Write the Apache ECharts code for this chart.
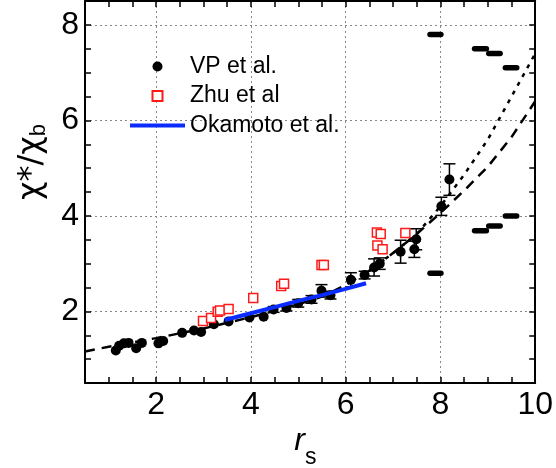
<!DOCTYPE html>
<html>
<head>
<meta charset="utf-8">
<script src="https://cdn.jsdelivr.net/npm/echarts@6/dist/echarts.min.js"></script>
<style>html,body{margin:0;padding:0;background:#fff;}#c{width:556px;height:468px;}</style>
</head>
<body>
<div id="c"></div>
<script>
// ---- data ----
const vpX   = [1.15,1.22,1.32,1.42,1.58,1.70,2.05,2.15,2.55,2.80,2.95,3.22,3.53,3.97,4.27,4.48,4.75,5.00,5.28,5.49,5.68,6.11,6.40,6.60,6.72,7.16,7.45,7.49,8.02,8.19];
const vpY   = [1.18,1.28,1.33,1.34,1.23,1.34,1.33,1.38,1.55,1.60,1.57,1.73,1.79,1.87,1.89,2.04,2.07,2.17,2.25,2.43,2.34,2.66,2.76,2.92,3.00,3.25,3.30,3.51,4.20,4.76];
const vpErr = [0,0,0,0,0,0,0,0,0,0,0,0,0,0,0,0.06,0.06,0.08,0.08,0.13,0.08,0.15,0.08,0.18,0.12,0.24,0.17,0.22,0.19,0.33];

const zhuX = [2.99,3.16,3.30,3.35,3.53,4.05,4.64,4.70,5.49,5.54,6.66,6.74,6.67,6.78,7.26];
const zhuY = [1.80,1.86,1.99,2.02,2.05,2.28,2.53,2.58,2.97,2.97,3.65,3.62,3.38,3.30,3.64];

const okaX = [3.45,4.0,4.5,5.0,5.5,6.0,6.43];
const okaY = [1.82,1.96,2.09,2.22,2.34,2.47,2.59];

const dashX = [0.5,1,1.5,2,2.5,3,3.5,4,4.5,5,5.5,6,6.5,7,7.5,8,8.5,9,9.5,10];
const dashY = [1.16,1.26,1.35,1.44,1.54,1.64,1.76,1.88,2.01,2.15,2.31,2.55,2.85,3.22,3.62,4.06,4.53,5.03,5.65,6.40];

const dotX = [6.5,7,7.5,8,8.5,9,9.5,10];
const dotY = [2.85,3.22,3.62,4.20,4.86,5.60,6.50,7.40];

// horizontal bars: start x, end x, y
const barX1 = [7.78,8.72,9.02,9.37,7.78,8.72,9.02,9.37];
const barX2 = [8.01,8.97,9.26,9.61,8.01,8.97,9.26,9.61];
const barY  = [7.80,7.50,7.40,7.10,2.80,3.69,3.79,4.00];

const xGrid = [2,4,6,8];
const yGrid = [2,4,6,8];
const xRange = [0.5, 10];
const yRange = [0.5, 8.5];

// ---- chart ----
const FONT = "'Liberation Sans', Arial, sans-serif";
const chart = echarts.init(document.getElementById('c'), null, {renderer:'canvas'});

function axisCommon(range, primary, labelFmt) {
  return {
    type: 'value', min: range[0], max: range[1], interval: 0.5,
    axisLine: {show: true, onZero: false, lineStyle: {color: '#000', width: 2}},
    axisTick: {show: true, inside: true, length: 6, lineStyle: {color: '#000', width: 1.5}},
    splitLine: {show: false},
    axisLabel: primary ? {show: true, color: '#000', fontSize: 32, fontFamily: FONT, margin: 6, formatter: labelFmt} : {show: false}
  };
}
const evenFmt = v => (Math.abs(v % 2) < 1e-9 ? String(v) : '');

const gridLines = xGrid.map(v => ({xAxis: v})).concat(yGrid.map(v => ({yAxis: v})));

chart.setOption({
  animation: false,
  backgroundColor: '#fff',
  grid: {left: 85, right: 17, top: 1, bottom: 85, containLabel: false},
  xAxis: [
    Object.assign(axisCommon(xRange, true, evenFmt), {position: 'bottom'}),
    Object.assign(axisCommon(xRange, false), {position: 'top'})
  ],
  yAxis: [
    Object.assign(axisCommon(yRange, true, evenFmt), {position: 'left'}),
    Object.assign(axisCommon(yRange, false), {position: 'right'})
  ],
  legend: {
    orient: 'vertical', left: 130, top: 55, padding: 0, itemWidth: 55, itemHeight: 10, itemGap: 6.5,
    textStyle: {color: '#000', fontSize: 23, fontFamily: FONT, lineHeight: 23},
    data: [
      {name: 'VP et al.', icon: 'circle'},
      {name: 'Zhu et al', icon: 'path://M0,0L10,0L10,10L0,10Z'},
      {name: 'Okamoto et al.', icon: 'path://M0,0L55,0L55,4L0,4Z'}
    ]
  },
  graphic: [
    {type: 'text', x: 32, y: 162, rotation: Math.PI / 2,
     style: {text: '{m|χ*/χ}{s|b}', align: 'center', verticalAlign: 'middle',
       rich: {m: {fontSize: 32, fontFamily: "'DejaVu Sans', sans-serif", fill: '#000'},
              s: {fontSize: 22, fontFamily: FONT, fill: '#000', padding: [14, 0, 0, 0]}}}},
    {type: 'text', x: 305, y: 441, style: {text: 'r', align: 'right', verticalAlign: 'middle', fontSize: 32, fontStyle: 'italic', fontFamily: FONT, fill: '#000'}},
    {type: 'text', x: 305, y: 458, style: {text: 's', align: 'left', verticalAlign: 'middle', fontSize: 23, fontFamily: FONT, fill: '#000'}}
  ],
  series: [
    {
      type: 'line', name: 'dashed', data: dashX.map((x, i) => [x, dashY[i]]),
      showSymbol: false, symbol: 'none', silent: true, z: 1,
      lineStyle: {color: '#000', width: 2.5, type: [10, 7]},
      markLine: {silent: true, symbol: ['none', 'none'], label: {show: false},
        lineStyle: {color: '#888', width: 1, type: [2, 3]}, data: gridLines, z: 0}
    },
    {
      type: 'line', name: 'dotted', data: dotX.map((x, i) => [x, dotY[i]]),
      showSymbol: false, symbol: 'none', silent: true, z: 1,
      lineStyle: {color: '#000', width: 2.5, type: [4, 6]}
    },
    {
      type: 'custom', name: 'bars', silent: true, z: 2,
      data: barX1.map((x, i) => [x, barX2[i], barY[i]]),
      encode: {x: [0, 1], y: 2},
      renderItem: (params, api) => {
        const p1 = api.coord([api.value(0), api.value(2)]);
        const p2 = api.coord([api.value(1), api.value(2)]);
        return {type: 'line', shape: {x1: p1[0], y1: p1[1], x2: p2[0], y2: p2[1]},
          style: {stroke: '#000', lineWidth: 5.5, lineCap: 'round'}};
      }
    },
    {
      type: 'custom', name: 'vpErr', silent: true, z: 3,
      data: vpX.map((x, i) => [x, vpY[i], vpErr[i]]),
      encode: {x: 0, y: 1},
      renderItem: (params, api) => {
        const x = api.value(0), y = api.value(1), e = api.value(2);
        if (!e) return null;
        const t = api.coord([x, y + e]), b = api.coord([x, y - e]);
        const hw = 6, st = {stroke: '#000', lineWidth: 1.5};
        return {type: 'group', children: [
          {type: 'line', shape: {x1: t[0], y1: t[1], x2: b[0], y2: b[1]}, style: st},
          {type: 'line', shape: {x1: t[0] - hw, y1: t[1], x2: t[0] + hw, y2: t[1]}, style: st},
          {type: 'line', shape: {x1: b[0] - hw, y1: b[1], x2: b[0] + hw, y2: b[1]}, style: st}
        ]};
      }
    },
    {
      type: 'scatter', name: 'VP et al.', z: 4,
      data: vpX.map((x, i) => [x, vpY[i]]),
      symbol: 'circle', symbolSize: 10, itemStyle: {color: '#000', opacity: 1}
    },
    {
      type: 'scatter', name: 'Zhu et al', z: 5,
      data: zhuX.map((x, i) => [x, zhuY[i]]),
      symbol: 'rect', symbolSize: 9,
      itemStyle: {color: '#fff', borderColor: '#ff1a1a', borderWidth: 1.5, opacity: 1}
    },
    {
      type: 'line', name: 'Okamoto et al.', z: 6,
      data: okaX.map((x, i) => [x, okaY[i]]),
      showSymbol: false, symbol: 'none',
      lineStyle: {color: '#0a2cff', width: 4},
      itemStyle: {color: '#0a2cff'}
    }
  ]
});
</script>
</body>
</html>
